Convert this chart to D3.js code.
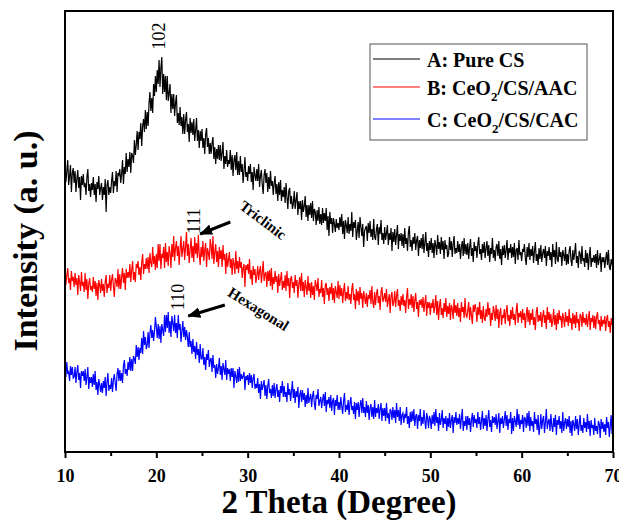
<!DOCTYPE html>
<html>
<head>
<meta charset="utf-8">
<script src="https://cdn.jsdelivr.net/npm/d3@7"></script>
<style>
body { margin: 0; background: #fff; }
text { font-family: "Liberation Serif", "Times New Roman", serif; }
</style>
</head>
<body>
<div class="chart"></div>
<script>
//Scan settings: 2 theta from 10 to 70 degree, step 0.1.
var thetaStart = 10;
var thetaStep = 0.1;

//A: Pure CS (arbitrary units).
var pureCS = [
285,270,281,292,267,276,287,260,279,284,
269,281,260,273,282,264,275,252,276,267,
278,265,269,257,275,283,261,268,255,269,
262,275,257,268,250,270,263,276,257,264,
269,252,265,257,273,240,267,272,257,265,
259,271,280,259,271,266,281,260,279,277,
283,269,278,292,268,285,278,299,280,293,
285,300,279,299,296,289,312,297,307,321,
302,320,313,329,306,326,333,320,342,323,
340,326,349,360,341,354,339,368,356,376,
360,382,368,392,365,384,395,358,378,360,
376,352,376,351,359,368,339,358,343,358,
336,349,357,329,339,327,345,326,335,318,
338,318,332,340,320,328,310,334,319,330,
317,333,311,322,334,311,322,304,321,311,
323,304,314,298,318,324,305,314,298,309,
298,309,315,293,305,288,303,293,307,292,
307,291,299,310,283,296,288,302,285,292,
288,302,282,297,276,292,297,282,300,277,
291,277,296,280,288,269,281,295,275,280,
271,286,278,288,270,280,262,285,277,271,
283,271,288,265,276,282,267,258,277,283,
269,279,260,275,263,281,266,271,257,269,
276,258,268,251,270,257,272,251,262,255,
265,249,269,255,243,261,264,248,256,243,
248,261,243,252,260,237,251,243,251,232,
252,240,246,256,235,247,231,247,237,249,
234,251,231,243,240,227,242,231,245,228,
238,227,244,229,239,231,244,222,236,216,
240,228,234,219,234,228,220,233,224,229,
222,235,225,238,218,231,213,232,227,219,
235,218,228,221,240,215,230,224,232,212,
221,230,214,235,225,216,228,205,221,224,
226,211,229,219,231,215,223,212,233,215,
212,223,228,207,225,218,232,212,219,208,
225,212,219,227,207,219,212,224,201,220,
210,223,207,217,227,203,218,211,219,206,
218,204,224,208,214,201,220,226,205,212,
201,215,208,219,202,212,216,196,212,204,
214,203,218,199,209,220,201,209,195,211,
202,214,199,209,194,212,206,197,217,203,
210,198,215,202,211,193,212,203,207,195,
198,215,202,211,195,208,216,198,204,199,
211,200,208,193,205,211,196,214,198,208,
197,209,193,205,213,196,204,190,210,201,
206,194,208,215,198,203,192,208,199,210,
194,204,211,196,207,190,204,198,214,194,
202,191,205,208,196,211,193,203,187,206,
197,207,194,202,212,192,204,199,208,194,
205,195,209,188,202,204,192,212,197,200,
191,203,200,208,194,187,205,195,209,192,
203,196,206,189,201,210,191,198,187,204,
193,207,190,199,203,194,206,186,201,196,
205,192,200,185,208,195,202,188,210,193,
190,205,195,200,186,202,197,191,205,187,
198,188,201,206,192,186,202,192,199,209,
189,196,184,201,198,188,206,191,194,185,
202,189,199,182,196,205,185,194,190,197,
189,198,184,202,187,193,199,180,195,190,
195,184,193,200,187,202,185,182,193,188,
190];

//B: CeO2/CS/AAC
var ceoAAC = [
180,167,177,184,169,174,162,181,171,175,
165,179,167,174,157,177,170,161,180,166,
170,160,179,162,173,153,168,174,162,166,
160,175,163,171,156,169,152,172,167,159,
173,161,168,155,170,177,159,168,164,177,
161,172,178,166,155,174,171,165,183,163,
178,163,175,184,169,179,162,183,174,180,
174,188,170,182,191,172,180,170,188,184,
191,177,185,172,190,198,178,188,183,194,
183,195,179,199,189,185,205,188,196,182,
198,184,208,191,208,183,198,194,205,184,
209,190,200,186,206,199,184,208,195,216,
191,204,211,196,206,187,203,216,195,203,
211,192,205,220,196,208,189,203,214,194,
206,190,215,198,209,194,217,198,187,205,
195,211,191,202,209,185,204,199,192,213,
206,193,216,188,200,208,190,201,185,205,
193,202,185,207,192,198,178,199,185,192,
200,184,193,177,194,188,178,201,183,191,
179,195,184,190,174,184,188,165,187,182,
188,178,193,173,182,167,186,177,183,169,
176,186,172,181,186,169,179,191,171,178,
180,165,181,171,182,166,184,162,175,168,
181,170,176,159,178,166,173,180,162,171,
164,177,161,181,166,174,154,173,176,164,
170,159,177,166,172,154,168,175,161,179,
161,170,155,172,165,157,176,161,169,154,
170,157,166,152,172,167,161,174,155,163,
159,172,155,164,148,167,169,157,164,151,
165,158,169,152,164,149,166,160,154,171,
153,167,156,164,149,161,169,151,160,153,
166,152,158,148,163,169,152,158,143,163,
151,161,147,165,153,159,144,161,155,148,
159,145,157,153,162,148,166,150,144,160,
147,158,163,149,156,142,160,165,150,154,
159,150,163,145,152,158,139,156,160,146,
150,161,145,156,163,146,152,141,156,147,
158,146,152,139,155,164,143,153,147,158,
144,156,140,152,159,143,150,135,152,147,
153,144,155,140,149,157,136,150,144,150,
137,149,144,153,139,146,157,137,151,132,
146,153,137,144,134,149,140,154,135,146,
138,149,132,147,143,133,153,139,147,136,
149,135,144,130,150,140,145,134,154,137,
135,142,150,132,145,137,128,147,140,148,
143,130,145,137,150,133,142,129,146,134,
131,143,135,150,137,144,126,139,132,146,
140,131,147,133,143,124,139,144,127,137,
134,143,128,140,147,131,137,126,142,133,
145,132,138,127,141,149,129,139,135,141,
129,143,132,139,124,137,145,130,142,127,
139,132,143,127,135,122,140,145,130,137,
131,140,125,136,142,129,137,123,145,132,
140,129,138,125,131,143,127,137,122,139,
128,142,132,136,124,139,133,125,140,130,
136,126,143,129,134,122,139,128,137,124,
140,129,133,121,138,136,125,140,129,134,
127,138,125,133,141,122,134,130,137,124,
136,123,135,140,128,132,121,136,125,132,
128,136,121,133,137,125,131,119,134,127,
130];

//C: CeO2/CS/CAC
var ceoCAC = [
86,75,90,78,80,71,86,77,85,74,
75,85,69,80,87,72,79,64,81,76,
81,71,83,67,75,85,63,75,69,75,
65,78,67,81,62,70,57,73,67,60,
69,59,71,64,75,56,70,79,61,67,
63,74,60,72,78,69,61,78,84,71,
82,71,79,69,86,92,78,83,76,90,
82,95,81,93,81,96,93,88,107,95,
105,92,104,99,114,98,121,107,115,103,
107,120,104,119,127,114,122,111,121,135,
125,114,128,113,126,109,128,122,116,137,
120,137,124,140,119,131,115,136,129,121,
137,119,129,114,137,122,128,110,121,131,
115,125,112,122,115,105,120,105,111,98,
113,100,106,93,110,97,103,89,108,93,
93,104,87,95,82,98,92,102,85,92,
94,80,97,84,87,74,88,78,84,94,
77,86,72,89,83,77,92,72,84,78,
83,71,84,75,84,64,81,76,69,83,
70,85,71,78,73,76,80,62,76,72,
77,67,79,69,77,64,74,78,63,68,
64,74,59,68,53,71,62,67,72,56,
67,53,66,73,59,63,54,67,56,69,
54,63,68,55,62,50,66,59,71,55,
66,55,60,50,69,57,63,51,61,71,
54,63,49,61,55,65,44,57,62,50,
62,52,59,45,57,48,64,49,54,58,
45,56,61,49,42,57,53,63,46,51,
55,44,52,58,46,60,40,52,48,55,
44,57,41,51,54,37,52,46,57,42,
50,42,55,46,38,51,59,40,47,42,
52,37,49,55,42,46,38,50,33,49,
42,50,35,47,52,39,54,39,45,35,
51,39,47,32,44,48,35,45,33,52,
35,44,39,48,33,43,49,31,44,36,
44,31,49,34,39,28,43,41,32,45,
34,42,29,49,35,42,31,45,27,37,
39,29,38,34,45,28,36,24,40,30,
41,31,43,26,36,38,23,37,31,43,
26,35,28,42,31,23,39,34,24,36,
33,23,37,28,40,26,43,29,35,21,
39,27,32,42,24,34,28,36,21,34,
25,39,24,32,37,19,35,29,40,27,
34,28,38,23,33,43,21,31,26,36,
22,36,27,34,20,32,39,25,37,29,
33,24,40,28,35,22,31,41,23,34,
26,37,21,33,42,25,32,20,36,29,
35,27,38,23,31,39,19,34,28,36,
24,32,41,26,37,22,33,29,40,18,
34,21,36,31,25,43,27,38,23,32,
28,37,20,35,33,24,39,26,41,21,
35,26,31,20,40,28,33,22,37,17,
25,38,23,32,36,19,30,43,23,30,
33,21,38,26,20,34,25,37,17,32,
27,36,23,31,19,40,21,29,34,23,
33,25,36,19,31,16,32,28,21,36,
23,33,17,28,37,21,27,19,34,24,
30,20,38,23,31,16,32,24,27,17,
34,21,26,18,31,28,14,33,23,30,
20,28,17,35,24,30,15,26,37,18,
24];

var seriesNames = ["A: Pure CS", "B: CeO2/CS/AAC", "C: CeO2/CS/CAC"];
var seriesColors = ["#000000", "#ff0000", "#0000ff"];
var xTicks = [10, 20, 30, 40, 50, 60, 70];
var xMinorTicks = [15, 25, 35, 45, 55, 65];

//Peak labels and phase notes: [2theta, intensity, text]
var peakLabels = [[20.3, 416, "102"], [24.1, 231, "111"], [22.3, 155, "110"]];
var phaseLabels = [[31.7, 232, "Triclinic", 37], [31.2, 143, "Hexagonal", 32]];
//Arrows: [from 2theta, from intensity, to 2theta, to intensity]
var arrows = [[28.1, 230, 24.8, 218], [27.5, 147, 23.5, 136]];

//SVG area and margins.
var svgWidth = 619;
var svgHeight = 521;
var margin = { top: 11, right: 6, bottom: 69, left: 65 };
var chartWidth = svgWidth - margin.left - margin.right;
var chartHeight = svgHeight - margin.top - margin.bottom;

var svg = d3.select(".chart")
  .append("svg")
  .attr("width", svgWidth)
  .attr("height", svgHeight);

var chart = svg.append("g")
  .attr("transform", "translate(" + margin.left + "," + margin.top + ")");

var xScale = d3.scaleLinear().domain([10, 70]).range([0, chartWidth]);
var yScale = d3.scaleLinear().domain([0, 441]).range([chartHeight, 0]);

chart.append("clipPath").attr("id", "plotClip")
  .append("rect").attr("width", chartWidth).attr("height", chartHeight);

var line = d3.line()
  .x(function(d, i) { return xScale(thetaStart + i * thetaStep); })
  .y(function(d) { return yScale(d); });

[pureCS, ceoAAC, ceoCAC].forEach(function(values, k) {
  chart.append("path")
    .datum(values)
    .attr("clip-path", "url(#plotClip)")
    .attr("fill", "none")
    .attr("stroke", seriesColors[k])
    .attr("stroke-width", 1.2)
    .attr("d", line);
});

//Bottom axis: major ticks with labels, minor ticks without.
var bottomAxis = d3.axisBottom(xScale).tickValues(xTicks).tickSize(6).tickPadding(11).tickFormat(d3.format("d"));
var minorAxis = d3.axisBottom(xScale).tickValues(xMinorTicks).tickSize(4).tickFormat("");

var gx = chart.append("g").attr("transform", "translate(0," + chartHeight + ")").call(bottomAxis);
var gxm = chart.append("g").attr("transform", "translate(0," + chartHeight + ")").call(minorAxis);
[gx, gxm].forEach(function(g) {
  g.select(".domain").remove();
  g.selectAll("line").attr("stroke", "#000").attr("stroke-width", 2);
});
gx.selectAll("text")
  .attr("fill", "#000")
  .style("font-family", "'Liberation Serif', 'Times New Roman', serif")
  .style("font-size", "18px")
  .style("font-weight", "bold");

//Frame.
chart.append("rect")
  .attr("width", chartWidth)
  .attr("height", chartHeight)
  .attr("fill", "none")
  .attr("stroke", "#000")
  .attr("stroke-width", 2);

//Axis titles.
svg.append("text")
  .attr("x", margin.left + chartWidth / 2)
  .attr("y", 513)
  .attr("text-anchor", "middle")
  .style("font-size", "33px")
  .style("font-weight", "bold")
  .text("2 Theta (Degree)");

svg.append("text")
  .attr("transform", "translate(37,241) rotate(-90)")
  .attr("text-anchor", "middle")
  .style("font-size", "34px")
  .style("font-weight", "bold")
  .text("Intensity (a. u.)");

//Peak indices.
chart.selectAll(".peak")
  .data(peakLabels)
  .enter().append("text")
  .attr("class", "peak")
  .attr("transform", function(d) { return "translate(" + xScale(d[0]) + "," + yScale(d[1]) + ") rotate(-90)"; })
  .attr("text-anchor", "middle")
  .attr("dy", "0.35em")
  .style("font-size", "18px")
  .text(function(d) { return d[2]; });

chart.selectAll(".phase")
  .data(phaseLabels)
  .enter().append("text")
  .attr("class", "phase")
  .attr("transform", function(d) { return "translate(" + xScale(d[0]) + "," + yScale(d[1]) + ") rotate(" + d[3] + ")"; })
  .attr("text-anchor", "middle")
  .attr("dy", "0.35em")
  .style("font-size", "15px")
  .style("font-weight", "bold")
  .text(function(d) { return d[2]; });

svg.append("defs").append("marker")
  .attr("id", "head")
  .attr("markerUnits", "userSpaceOnUse")
  .attr("viewBox", "0 0 12 10")
  .attr("refX", 11).attr("refY", 5)
  .attr("markerWidth", 13).attr("markerHeight", 11)
  .attr("orient", "auto")
  .append("path").attr("d", "M0,0 L12,5 L0,10 Z").attr("fill", "#000");

chart.selectAll(".arrow")
  .data(arrows)
  .enter().append("line")
  .attr("class", "arrow")
  .attr("x1", function(d) { return xScale(d[0]); })
  .attr("y1", function(d) { return yScale(d[1]); })
  .attr("x2", function(d) { return xScale(d[2]); })
  .attr("y2", function(d) { return yScale(d[3]); })
  .attr("stroke", "#000")
  .attr("stroke-width", 3)
  .attr("marker-end", "url(#head)");

//Legend.
var legend = svg.append("g").attr("transform", "translate(370,44)");
legend.append("rect")
  .attr("width", 217).attr("height", 96)
  .attr("fill", "#fff").attr("stroke", "#555").attr("stroke-width", 1);

var rowY = [15, 43, 75];
seriesNames.forEach(function(name, k) {
  legend.append("line")
    .attr("x1", 3).attr("x2", 50)
    .attr("y1", rowY[k]).attr("y2", rowY[k])
    .attr("stroke", seriesColors[k]).attr("stroke-width", 1);
  var t = legend.append("text")
    .attr("x", 57).attr("y", rowY[k] + 8)
    .style("font-size", "20px")
    .style("font-weight", "bold");
  var parts = name.split("2");
  if (parts.length > 1) {
    t.append("tspan").text(parts[0]);
    t.append("tspan").attr("dy", 6).style("font-size", "13px").text("2");
    t.append("tspan").attr("dy", -6).text(parts[1]);
  } else {
    t.text(name);
  }
});
</script>
</body>
</html>
